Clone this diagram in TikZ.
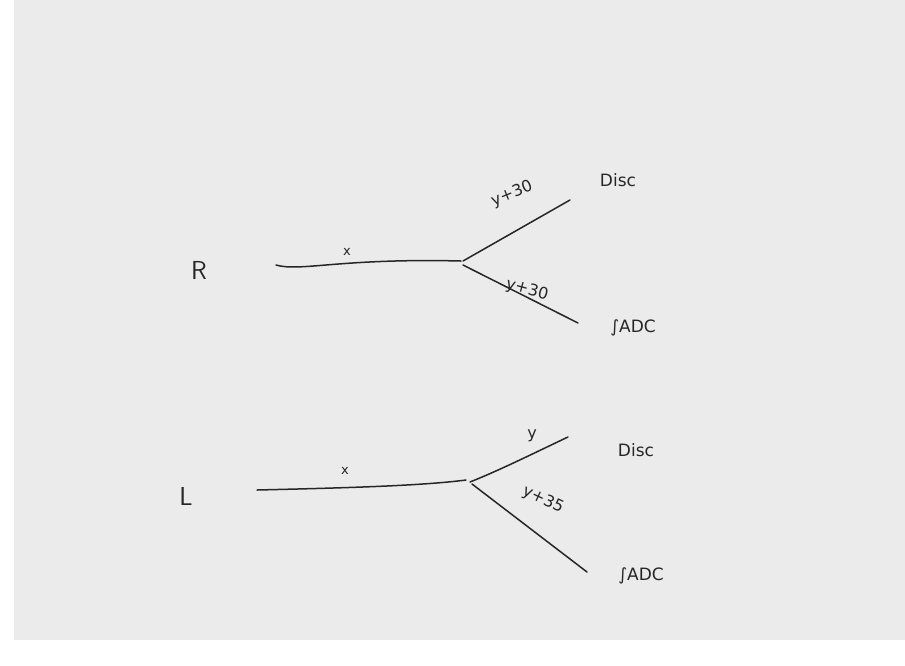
\documentclass[tikz,border=0pt]{standalone}
\usepackage{fontspec}
\setmainfont{DejaVu Sans}
\begin{document}
\begin{tikzpicture}[x=1pt,y=-1pt,
  stroke/.style={line width=1.5pt,draw=black!85,line cap=round},
  big/.style={font=\fontsize{26}{26}\selectfont\sffamily,text=black!85,inner sep=0pt},
  lab/.style={font=\fontsize{17}{17}\selectfont,text=black!85,inner sep=0pt},
  small/.style={font=\fontsize{16}{16}\selectfont,text=black!85,inner sep=0pt},
  tiny/.style={font=\fontsize{13}{13}\selectfont,text=black!85,inner sep=0pt}]
\useasboundingbox (0,0) rectangle (905,665);
\fill[white] (0,0) rectangle (905,665);
\fill[black!8] (14,0) rectangle (905,640);
% R branch
\node[big] (R) at (199,270) {R};
\coordinate (r0) at (276,265);
\coordinate (rj) at (461,261);
\coordinate (rd) at (570,200);
\coordinate (ra) at (578,323);
\draw[stroke] (r0) .. controls (300,272) and (340,258) .. (rj);
\draw[stroke] (rj) ++(2,0) -- (rd);
\draw[stroke] (rj) ++(2,4) -- (ra);
\node[tiny] (rx) at (347,252) {x};
\node[small,rotate=22] (ry1) at (512,194) {y+30};
\node[small,rotate=-15] (ry2) at (527,290) {y+30};
\node[lab] (rdisc) at (618,180) {Disc};
\node[lab] (radc) at (633,328) {∫ADC};
% L branch
\node[big] (L) at (186,496) {L};
\coordinate (l0) at (257,490);
\coordinate (lj) at (466,480);
\coordinate (ld) at (568,437);
\coordinate (la) at (587,572);
\draw[stroke] (l0) .. controls (340,488) and (420,486) .. (lj);
\draw[stroke] (lj) ++(4,2) .. controls (500,470) and (530,455) .. (ld);
\draw[stroke] (lj) ++(6,4) -- (la);
\node[tiny] (lx) at (345,471) {x};
\node[small] (ly1) at (532,436) {y};
\node[small,rotate=-25] (ly2) at (543,500) {y+35};
\node[lab] (ldisc) at (636,450) {Disc};
\node[lab] (ladc) at (641,576) {∫ADC};
\end{tikzpicture}
\end{document}
